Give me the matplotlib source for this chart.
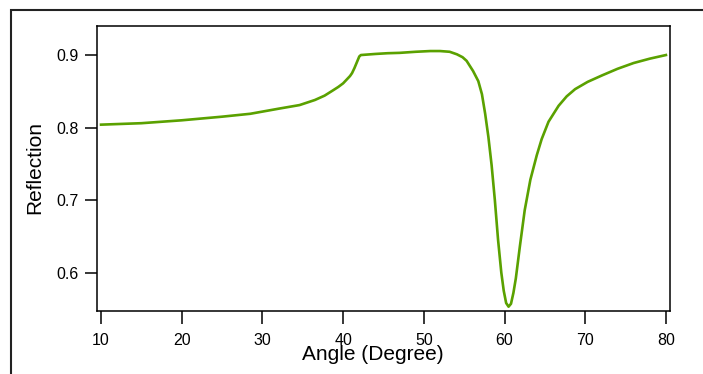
import matplotlib
matplotlib.use('Agg')
import matplotlib.pyplot as plt
from matplotlib.patches import Rectangle

plt.rcParams['font.family'] = ['Liberation Sans', 'DejaVu Sans']

# Reflection curve
angle = [10, 15, 20, 25, 28.5, 32, 34.6, 36.5, 37.7, 38.7, 39.4, 40, 40.85,
         41.1, 41.4, 41.7, 42.0, 42.2, 44, 45.5, 47, 49, 50.8, 52.0, 53.2,
         54.1, 54.8, 55.3, 56.1, 56.75, 57.2, 57.6, 58.0, 58.4, 58.8, 59.2,
         59.6, 59.9, 60.2, 60.5, 60.8, 61.1, 61.4, 61.9, 62.5, 63.2, 64.0,
         64.6, 65.45, 66.7, 67.7, 68.75, 70.3, 72.1, 74, 76.0, 78, 80]
reflection = [0.804, 0.806, 0.810, 0.815, 0.819, 0.826, 0.831, 0.838, 0.844,
              0.851, 0.856, 0.861, 0.871, 0.875, 0.882, 0.890, 0.898, 0.900,
              0.9015, 0.9025, 0.903, 0.9045, 0.9055, 0.9055, 0.9045, 0.901,
              0.897, 0.892, 0.878, 0.864, 0.846, 0.819, 0.787, 0.748, 0.700,
              0.645, 0.600, 0.575, 0.558, 0.553, 0.557, 0.572, 0.592, 0.636,
              0.686, 0.728, 0.762, 0.784, 0.808, 0.830, 0.843, 0.853, 0.863,
              0.872, 0.881, 0.889, 0.895, 0.900]

x_ticks = [10, 20, 30, 40, 50, 60, 70, 80]
y_ticks = [0.6, 0.7, 0.8, 0.9]

fig = plt.figure(figsize=(7.03, 3.74), dpi=100)
ax = fig.add_axes([0.138, 0.1684, 0.815, 0.762])

ax.plot(angle, reflection, color='#5aa100', linewidth=1.9,
        solid_joinstyle='round')

ax.set_xlim(9.5, 80.5)
ax.set_ylim(0.547, 0.940)
ax.set_xticks(x_ticks)
ax.set_yticks(y_ticks)
ax.set_xticklabels([str(t) for t in x_ticks])
ax.set_yticklabels([f'{t:.1f}' for t in y_ticks])
ax.tick_params(direction='out', length=9, width=1.1, labelsize=11.5)
ax.tick_params(axis='x', pad=7)
ax.tick_params(axis='y', pad=4)
for s in ax.spines.values():
    s.set_linewidth(1.1)

# the x label sits over the tick labels, as in the original
ax.set_xlabel('Angle (Degree)', fontsize=15)
ax.xaxis.set_label_coords(373 / 703, 1 - 355 / 374, transform=fig.transFigure)
ax.xaxis.label.set_va('center')
ax.set_ylabel('Reflection', fontsize=15)
ax.yaxis.set_label_coords(35 / 703, 1 - 168 / 374, transform=fig.transFigure)
ax.yaxis.label.set_va('center')

# outer frame, cut off by the right and bottom edges
frame = Rectangle((11 / 703, -0.2), 1.2, 1.2 - 9.5 / 374, transform=fig.transFigure,
                  fill=False, edgecolor='#222222', linewidth=1.5, clip_on=False)
fig.add_artist(frame)

fig.savefig('out.png', dpi=100)
